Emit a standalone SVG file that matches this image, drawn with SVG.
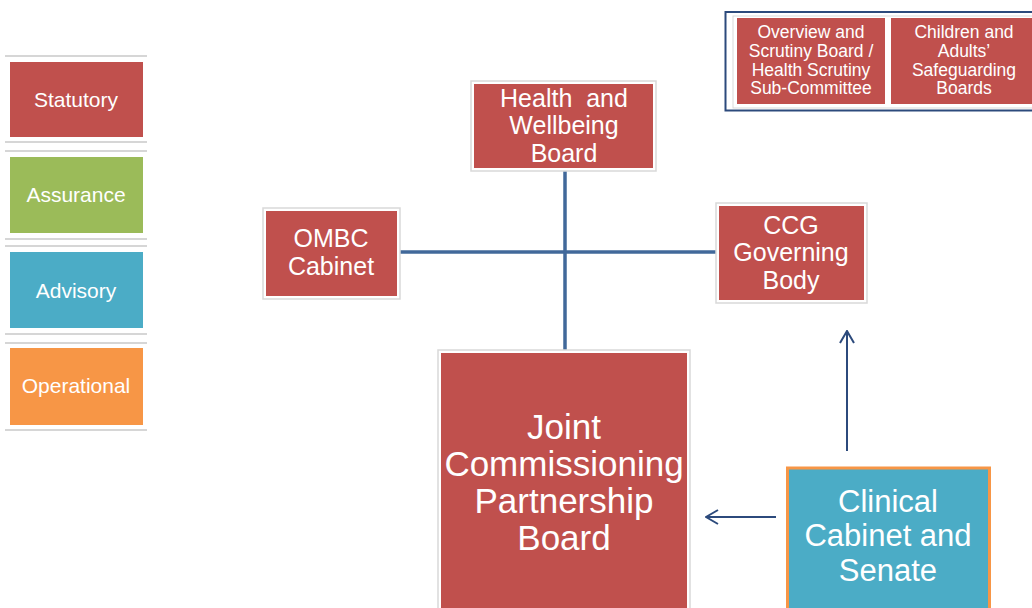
<svg xmlns="http://www.w3.org/2000/svg" width="1032" height="608" viewBox="0 0 1032 608">
<style>
text{font-family:"Liberation Sans",Arial,sans-serif;fill:#ffffff;text-anchor:middle}
.frame{fill:#ffffff;stroke:#d9d9d9;stroke-width:1.5}
.red{fill:#C0504D}
.sep{stroke:#c8c8c8;stroke-width:1.5}
.conn{stroke:#41689A;stroke-width:3.5;fill:none}
.arr{stroke:#2C4A7C;stroke-width:2;fill:none}
</style>
<defs>
<marker id="open" viewBox="0 0 14 16" refX="13" refY="8" markerWidth="14" markerHeight="16" markerUnits="userSpaceOnUse" orient="auto">
<path d="M1,1 L13,8 L1,15" fill="none" stroke="#2C4A7C" stroke-width="2"/>
</marker>
</defs>
<rect width="1032" height="608" fill="#ffffff"/>

<g id="legend">
<line class="sep" x1="5" y1="56" x2="147" y2="56"/>
<line class="sep" x1="5" y1="142" x2="147" y2="142"/>
<line class="sep" x1="5" y1="151" x2="147" y2="151"/>
<line class="sep" x1="5" y1="239" x2="147" y2="239"/>
<line class="sep" x1="5" y1="246" x2="147" y2="246"/>
<line class="sep" x1="5" y1="334" x2="147" y2="334"/>
<line class="sep" x1="5" y1="343" x2="147" y2="343"/>
<line class="sep" x1="5" y1="430" x2="147" y2="430"/>
<g id="legend-statutory"><rect x="10" y="62" width="133" height="75" fill="#C0504D"/><text x="76" y="107" font-size="21">Statutory</text></g>
<g id="legend-assurance"><rect x="10" y="157" width="133" height="76" fill="#9BBB59"/><text x="76" y="202" font-size="21">Assurance</text></g>
<g id="legend-advisory"><rect x="10" y="252" width="133" height="76" fill="#4BACC6"/><text x="76" y="298" font-size="21">Advisory</text></g>
<g id="legend-operational"><rect x="10" y="348" width="133" height="77" fill="#F79646"/><text x="76" y="393" font-size="21">Operational</text></g>
</g>

<g id="scrutiny-group">
<rect x="725.5" y="12" width="312" height="98.5" fill="#ffffff" stroke="#2C4A7C" stroke-width="2"/>
<rect x="733" y="16" width="305" height="92" fill="none" stroke="#d9d9d9" stroke-width="1"/>
</g>
<g id="overview">
<rect class="red" x="737" y="18" width="148" height="86"/>
<text font-size="17.5"><tspan x="811" y="38">Overview and</tspan><tspan x="811" y="57">Scrutiny Board /</tspan><tspan x="811" y="76">Health Scrutiny</tspan><tspan x="811" y="94">Sub-Committee</tspan></text>
</g>
<g id="safeguarding">
<rect class="red" x="891" y="18" width="145" height="86"/>
<text font-size="17.5"><tspan x="964" y="38">Children and</tspan><tspan x="964" y="57">Adults’</tspan><tspan x="964" y="76">Safeguarding</tspan><tspan x="964" y="94">Boards</tspan></text>
</g>

<g id="connectors">
<line class="conn" x1="400" y1="252" x2="716" y2="252"/>
<line class="conn" x1="565" y1="171" x2="565" y2="350"/>
<line class="arr" x1="847" y1="451" x2="847" y2="331" marker-end="url(#open)"/>
<line class="arr" x1="776" y1="517" x2="706" y2="517" marker-end="url(#open)"/>
</g>

<g id="health-wellbeing">
<rect class="frame" x="471" y="81" width="185" height="90"/>
<rect class="red" x="474" y="84" width="179" height="84"/>
<text font-size="25"><tspan x="564" y="107" xml:space="preserve">Health  and</tspan><tspan x="564" y="134">Wellbeing</tspan><tspan x="564" y="162">Board</tspan></text>
</g>

<g id="ombc-cabinet">
<rect class="frame" x="263" y="208" width="137" height="91"/>
<rect class="red" x="266" y="211" width="131" height="85"/>
<text font-size="25"><tspan x="331" y="247">OMBC</tspan><tspan x="331" y="275">Cabinet</tspan></text>
</g>

<g id="ccg">
<rect class="frame" x="716" y="203" width="151" height="100"/>
<rect class="red" x="719" y="206" width="145" height="94"/>
<text font-size="25"><tspan x="791" y="234">CCG</tspan><tspan x="791" y="261">Governing</tspan><tspan x="791" y="289">Body</tspan></text>
</g>

<g id="jcpb">
<rect class="frame" x="438" y="350" width="252" height="262"/>
<rect class="red" x="441" y="353" width="246" height="260"/>
<text font-size="35"><tspan x="564" y="439">Joint</tspan><tspan x="564" y="476">Commissioning</tspan><tspan x="564" y="513">Partnership</tspan><tspan x="564" y="550">Board</tspan></text>
</g>

<g id="clinical">
<rect x="787.5" y="468" width="202" height="145" fill="#4BACC6" stroke="#F79646" stroke-width="3"/>
<text font-size="31"><tspan x="888" y="512">Clinical</tspan><tspan x="888" y="546">Cabinet and</tspan><tspan x="888" y="581">Senate</tspan></text>
</g>
</svg>
